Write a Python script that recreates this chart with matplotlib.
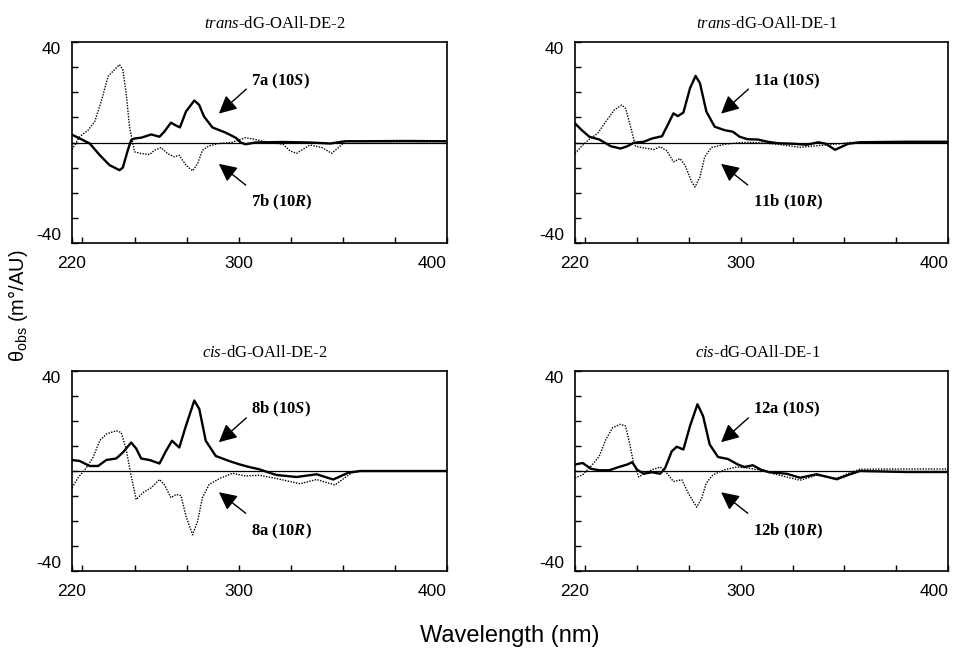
# CD spectra of the four dG-OAll-DE adduct pairs
import matplotlib
matplotlib.use('Agg')
import matplotlib.pyplot as plt

plt.rcParams['font.family'] = 'Liberation Sans'
plt.rcParams['mathtext.fontset'] = 'custom'
plt.rcParams['mathtext.rm'] = 'Liberation Serif'
plt.rcParams['mathtext.it'] = 'Liberation Serif:italic'
plt.rcParams['mathtext.bf'] = 'Liberation Serif:bold'
plt.rcParams['mathtext.bfit'] = 'Liberation Serif:italic:bold'
plt.rcParams['mathtext.sf'] = 'Liberation Sans'

# panel 1: trans-dG-OAll-DE-2
wl_7a = [220, 223.7, 228.5, 233.3, 238, 242.8, 244.4, 246.8, 248.4, 250, 253.2, 258, 262, 264.3,
         267.5, 269.6, 271.8, 274.7, 278.7, 281, 283.4, 287.4, 293.8, 298.6, 301, 303.3, 308, 321,
         334, 344, 351, 360, 380, 400]
cd_7a = [3.1, 1.6, -0.4, -5, -9, -11, -10, -3, 1, 1.6, 1.9, 3.2, 2.3, 4.3,
         7.9, 6.9, 6, 12.3, 16.7, 15, 10.3, 6, 3.9, 1.9, 0, -0.7, 0, 0.2,
         0, -0.4, 0.5, 0.5, 0.6, 0.5]
wl_7b = [220, 223.7, 227.7, 230.9, 234, 237.3, 240.4, 242.8, 244.4, 246, 247.6, 250, 253.2, 257.2,
         259.6, 262.7, 265.9, 269.1, 271.5, 274.7, 277.9, 280.3, 282.6, 285.8, 290.6, 297, 303.3,
         308, 312.8, 321.3, 324.6, 327.8, 334.2, 340, 344.6, 348, 351, 370, 400]
cd_7b = [-2.8, 2.3, 4.9, 8.3, 16.3, 26.3, 29, 31, 29, 19.6, 6.3, -3.7, -4.4, -4.8,
         -3.1, -2, -4.4, -5.7, -5.1, -9, -11.3, -8.4, -3.1, -1.3, -0.4, 0.1, 1.9,
         1.2, 0.3, -0.7, -3.3, -4.3, -1, -2, -4.3, -2, 0.4, 0.3, 0.3]

# panel 2: trans-dG-OAll-DE-1
wl_11a = [220, 222.9, 226.9, 231.7, 237.3, 242, 245.2, 248.4, 253.2, 257.2, 262, 265.1, 267.5,
          269.6, 272.3, 275.5, 278.2, 280.3, 283.4, 287.4, 292.2, 296.2, 299.4, 303.3, 308.1,
          312.9, 318, 325.4, 331.8, 337.4, 341, 345.5, 351.9, 357.5, 380, 400]
cd_11a = [7.6, 5.2, 2.3, 1.2, -1.5, -2.4, -1.5, -0.1, 0.3, 1.6, 2.5, 7.6, 11.6,
          10.5, 11.9, 21.6, 26.5, 23.6, 12.3, 6.3, 4.9, 4.3, 2.3, 1.3, 1.2,
          0.3, -0.3, -0.5, -0.9, 0.1, -0.5, -2.9, -0.5, 0.1, 0.3, 0.3]
wl_11b = [220, 222.9, 226.9, 230.9, 234.9, 238.9, 242.5, 244.4, 246.8, 249.2, 252.4, 258, 261.1,
          264.3, 267.5, 270.7, 273.1, 276.3, 277.9, 280.3, 282.6, 285.8, 292.2, 300.2, 308.1,
          318.9, 328.6, 338.2, 347.9, 352.7, 370, 400]
cd_11b = [-4.4, -1.7, 1.3, 3.6, 8.3, 12.9, 14.9, 13.6, 6.3, -1.5, -2, -2.8, -1.7,
          -3.3, -7.7, -6.4, -9, -15.7, -17.7, -13.7, -5.7, -2, -0.7, 0, 0,
          -0.8, -1.9, -1.2, -0.5, 0, 0.1, 0.1]

# panel 3: cis-dG-OAll-DE-2
wl_8b = [220, 223.7, 228.5, 232.5, 236.5, 241.2, 244.4, 248.4, 250.8, 253.2, 257.2, 262, 265.1,
         268, 271.5, 274.7, 278.7, 281.1, 284.2, 289, 295.4, 300.2, 305, 309.8, 313.7, 318.2,
         327.8, 337.4, 345.4, 352.6, 358.2, 380, 400]
cd_8b = [4.4, 4, 2, 2, 4.4, 5, 7.4, 11.4, 9, 5, 4.4, 3, 8,
         12.1, 9.4, 18.1, 28.2, 24.8, 12.1, 6, 4, 2.7, 1.6, 0.7, -0.4, -1.6,
         -2.4, -1.3, -3.4, -0.7, 0, 0, 0]
wl_8a = [220, 222.9, 226.9, 230.1, 233.3, 236.5, 241.2, 243.6, 246, 248.4, 250.8, 254, 258, 262,
         264.3, 267.5, 269.9, 272.3, 274.7, 277.9, 280.3, 282.6, 285.8, 290.6, 297, 303.3, 309.8,
         318.2, 329.4, 337.4, 346.2, 354.2, 359.8, 380, 400]
cd_8a = [-6.7, -2.7, 1.3, 5.4, 12.1, 14.8, 16.1, 15.4, 8.7, -2, -11.4, -8.7, -6.7, -3.4,
         -5.4, -10.7, -9.4, -9.8, -18.1, -25.5, -20.1, -10.7, -5.4, -3.1, -0.9, -2, -1.7,
         -3, -5.1, -3.4, -5.6, -0.7, 0, 0, 0]

# panel 4: cis-dG-OAll-DE-1
wl_12a = [220, 223.7, 227.7, 231.7, 236.5, 241.2, 245.2, 247.6, 250, 253.2, 257.2, 261.1, 263.5,
          266.7, 269.1, 272.3, 275.5, 279.1, 281.8, 285, 289, 293.8, 298.6, 301.8, 305.8, 309.8,
          313.8, 322.2, 328.6, 336.6, 346.3, 352.7, 357.5, 380, 400]
cd_12a = [2.6, 3.2, 0.9, 0.3, 0.3, 1.6, 2.6, 3.5, 0.5, -1.1, -0.5, -1.1, 1.2,
          7.9, 9.7, 8.6, 18, 26.7, 22, 10.6, 5.6, 4.8, 2.6, 1.6, 2.3, 0.5,
          -0.5, -1.1, -2.7, -1.3, -3.3, -1.3, 0, -0.4, -0.4]
wl_12b = [220, 223.7, 227.7, 231.7, 234.9, 238.1, 242, 244.4, 246.3, 248.4, 250.8, 253.2, 257.2,
          261.1, 264.3, 267.5, 271.5, 274.7, 278.7, 281.1, 283.4, 286.6, 292.2, 297.8, 303.3,
          309.8, 315.7, 328.6, 336.6, 346.3, 352.7, 357.5, 380, 400]
cd_12b = [-2.8, -1.5, 1.9, 5.9, 12.6, 17.3, 18.7, 18, 11.3, 2.6, -2.4, -1.1, 0.5,
          1.6, -0.8, -4.2, -3.5, -8.9, -14.5, -10.9, -4.8, -1.5, 0.5, 1.6, 1.2,
          0.3, -1.1, -3.7, -1.7, -2.9, -0.7, 0.7, 0.8, 0.8]

titles = [r'$\it{trans}$-dG-OAll-DE-2', r'$\it{trans}$-dG-OAll-DE-1',
          r'$\it{cis}$-dG-OAll-DE-2', r'$\it{cis}$-dG-OAll-DE-1']
solid = [(wl_7a, cd_7a), (wl_11a, cd_11a), (wl_8b, cd_8b), (wl_12a, cd_12a)]
dotted = [(wl_7b, cd_7b), (wl_11b, cd_11b), (wl_8a, cd_8a), (wl_12b, cd_12b)]
upper_labels = ['7a (10$\\mathbfit{S}$)', '11a (10$\\mathbfit{S}$)',
                '8b (10$\\mathbfit{S}$)', '12a (10$\\mathbfit{S}$)']
lower_labels = ['7b (10$\\mathbfit{R}$)', '11b (10$\\mathbfit{R}$)',
                '8a (10$\\mathbfit{R}$)', '12b (10$\\mathbfit{R}$)']

W, H = 956, 652
fig = plt.figure(figsize=(W / 100, H / 100), dpi=100)
boxes = [(72, 42, 375, 201), (575, 42, 373, 201),
         (72, 371, 375, 200), (575, 371, 373, 200)]
title_x = [0.54, 0.515, 0.515, 0.49]

for i in range(4):
    l, t, w, h = boxes[i]
    ax = fig.add_axes([l / W, 1 - (t + h) / H, w / W, h / H])
    ax.plot(solid[i][0], solid[i][1], color='k', lw=1.7)
    ax.plot(dotted[i][0], dotted[i][1], color='k', lw=1.0, ls=(0, (1, 1)))
    ax.axhline(0, color='k', lw=0.9)
    ax.set_xlim(220, 400)
    ax.set_ylim(-40, 40)
    ax.set_xticks([220, 300, 400], labels=['220', '300', '400'])
    ax.set_xticks([225, 250, 275, 325, 350, 375], minor=True)
    ax.set_yticks([-40, 40], labels=['-40', '40'])
    ax.set_yticks([-30, -20, -10, 0, 10, 20, 30], minor=True)
    ax.tick_params(which='both', direction='in', length=4, width=1, labelsize=12.5)
    ax.tick_params(axis='x', pad=9)
    ax.tick_params(axis='y', pad=8)
    ylabs = ax.get_yticklabels()
    ylabs[0].set_va('bottom')
    ylabs[1].set_va('top')
    ax.get_xticklabels()[2].set_ha('right')
    for s in ax.spines.values():
        s.set_linewidth(1.2)
    ax.set_title(titles[i], fontsize=12, family='Liberation Serif', pad=10, x=title_x[i])

    ax.annotate(upper_labels[i], xy=(290.5, 11.5), xytext=(306, 24.5),
                fontsize=12, fontweight='bold', family='Liberation Serif',
                va='center', ha='left',
                arrowprops=dict(arrowstyle='-|>,head_length=0.6,head_width=0.3',
                                color='k', lw=1, mutation_scale=18,
                                shrinkA=2, shrinkB=0, relpos=(0, 0.3)))
    ax.annotate(lower_labels[i], xy=(290.5, -8.5), xytext=(306, -24),
                fontsize=12, fontweight='bold', family='Liberation Serif',
                va='center', ha='left',
                arrowprops=dict(arrowstyle='-|>,head_length=0.6,head_width=0.3',
                                color='k', lw=1, mutation_scale=18,
                                shrinkA=5, shrinkB=0, relpos=(0, 1.2)))

fig.text(510 / W, 1 - 636 / H, 'Wavelength (nm)', fontsize=17, ha='center', va='center')
fig.text(18 / W, 1 - 306 / H, r'θ$_{\mathsf{obs}}$ (m°/AU)', fontsize=14.5,
         rotation=90, ha='center', va='center')

fig.savefig('out.png', dpi=100)
